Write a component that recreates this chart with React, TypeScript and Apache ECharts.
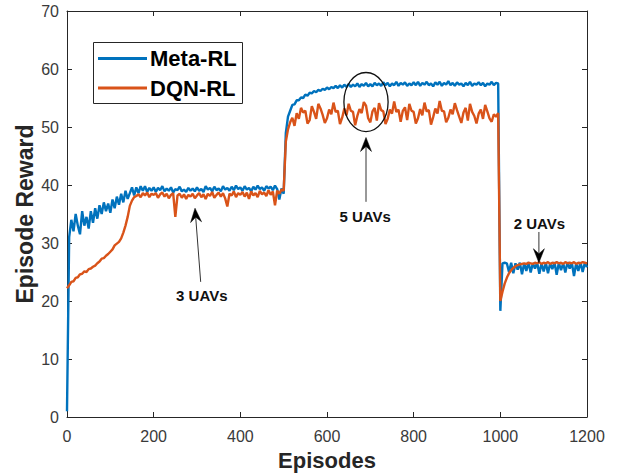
import React, { useEffect, useRef } from "react";
import * as echarts from "echarts";

// Episode spacing between samples
const STEP = 5;

const seriesNames = ["Meta-RL", "DQN-RL"];
const seriesColors = ["#0072BD", "#D95319"];

// Meta-RL episode reward, one value every 5 episodes (0..1200)
const metaRL = [
  1, 31, 34, 32, 35, 33, 31.5, 35.5, 33, 34.5, 32.5, 35.5, 33.5, 36, 34.2, 36.5, 35, 37, 35.5, 36.8,
  35.2, 37.5, 36, 38, 36.6, 38.5, 37, 39, 37.6, 38.6, 39.6, 38.2, 39.6, 38.6, 39.8, 39, 39.8, 38.8, 39.5, 39,
  39.6, 38.8, 39.5, 39.1, 39.8, 38.9, 39.4, 39.0, 39.6, 38.7, 39.3, 39.1, 39.7, 38.9, 39.2, 38.8, 39.5, 39.0, 39.4, 38.9,
  39.6, 39.0, 39.3, 38.8, 39.8, 39.2, 39.5, 38.9, 39.7, 39.1, 39.4, 38.9, 39.8, 39.2, 39.5, 39.0, 39.7, 39.1, 39.9, 39.3,
  39.6, 39.0, 39.8, 39.2, 39.5, 38.9, 39.7, 39.2, 39.9, 39.3, 39.6, 39.0, 39.8, 39.4, 39.7, 39.1, 39.9, 39.3, 37.5, 39.4,
  38.5, 49, 51.8, 52.8, 53.8, 53.9, 54.6, 54.6, 55.1, 55.0, 55.6, 55.4, 55.9, 55.8, 56.2, 56.0, 56.4, 56.2, 56.6, 56.4,
  56.8, 56.5, 56.9, 56.7, 57.1, 56.7, 57.2, 56.8, 57.3, 56.9, 57.4, 56.9, 57.3, 57.0, 57.5, 56.9, 57.4, 57.1, 57.6, 57.0,
  57.4, 57.0, 57.6, 57.2, 57.5, 57.1, 57.7, 57.2, 57.6, 57.0, 57.5, 57.2, 57.8, 57.1, 57.6, 57.3, 57.7, 57.1, 57.5, 57.2,
  57.7, 57.2, 57.8, 57.1, 57.6, 57.3, 57.8, 57.2, 57.5, 57.0, 57.7, 57.3, 57.8, 57.1, 57.6, 57.3, 57.9, 57.2, 57.6, 57.1,
  57.7, 57.3, 57.5, 57.0, 57.6, 57.2, 57.8, 57.1, 57.5, 57.3, 57.7, 57.2, 57.6, 57.0, 57.5, 57.3, 57.8, 57.2, 57.6, 57.5,
  18.3, 26.5, 26.6, 26.5, 25.0, 26.6, 24.8, 26.5, 25.4, 26.6, 24.6, 26.5, 25.2, 26.7, 24.9, 26.5, 25.6, 26.6, 24.7, 26.5,
  25.1, 26.6, 24.8, 26.5, 25.5, 26.7, 24.5, 26.6, 25.3, 26.5, 24.9, 26.7, 25.6, 26.6, 24.3, 26.5, 25.2, 26.7, 25.0, 26.6,
  25.8,
];

// DQN-RL episode reward, one value every 5 episodes (0..1200)
const dqnRL = [
  22.2, 22.7, 23.3, 23.4, 24.0, 24.1, 24.6, 24.7, 25.1, 25.0, 25.5, 25.6, 25.9, 26.1, 26.5, 26.8, 27.3, 27.4, 27.8, 28.1,
  28.5, 28.9, 29.6, 29.9, 30.2, 30.8, 31.8, 33.0, 34.5, 36.4, 37.3, 37.9, 38.1, 38.4, 37.9, 38.6, 38.2, 38.7, 37.9, 38.5,
  38.3, 38.6, 37.8, 38.4, 38.7, 38.0, 38.5, 37.7, 38.3, 38.6, 34.5, 38.2, 38.5, 37.8, 38.4, 37.6, 38.3, 38.0, 38.5, 37.7,
  38.2, 38.6, 37.9, 38.4, 37.6, 38.5, 38.1, 38.8, 37.8, 38.3, 38.7, 38.0, 38.6, 37.7, 36.3, 38.5, 38.2, 38.9, 37.9, 38.6,
  38.3, 38.8, 38.0, 38.7, 37.6, 38.9, 38.2, 38.6, 37.9, 39.0, 38.4, 38.7, 38.1, 39.1, 38.3, 38.9, 36.5, 39.0, 38.5, 39.2,
  39.0, 47.5, 49.6, 50.8, 51.6, 50.2, 52.4, 51.4, 53.3, 52.5, 52.8, 50.6, 51.2, 53.6, 52.6, 51.4, 54.0, 53.2, 52.1, 50.7,
  51.5, 53.0, 52.2, 54.2, 52.6, 52.8, 50.5, 51.6, 53.2, 52.0, 54.0, 52.8, 52.6, 50.3, 51.9, 53.1, 52.4, 54.3, 53.7, 51.5,
  50.8, 52.7, 53.3, 51.1, 54.1, 52.9, 52.7, 50.5, 51.4, 53.0, 52.3, 54.4, 52.6, 53.0, 50.9, 52.8, 53.4, 51.2, 54.0, 52.8,
  52.6, 50.6, 51.5, 53.1, 52.0, 54.2, 52.7, 52.9, 50.4, 51.7, 53.2, 52.3, 54.5, 52.8, 52.7, 50.8, 51.6, 53.0, 52.2, 54.1,
  52.9, 51.8, 50.7, 52.5, 53.3, 51.1, 54.0, 52.6, 51.9, 50.6, 52.3, 53.0, 51.4, 53.8, 52.7, 51.5, 50.9, 52.2, 51.8, 52.4,
  20.0, 21.6, 23.0, 24.0, 24.8, 25.3, 25.7, 26.0, 26.2, 26.3, 26.4, 26.5, 26.4, 26.6, 26.5, 26.4, 26.6, 26.5, 26.7, 26.4,
  26.6, 26.5, 26.7, 26.4, 26.6, 26.5, 26.7, 26.5, 26.6, 26.4, 26.7, 26.5, 26.6, 26.5, 26.7, 26.4, 26.6, 26.5, 26.7, 26.6,
  26.5,
];

// Annotations in data coordinates [episode, reward]
const annotationTexts = ["3 UAVs", "5 UAVs", "2 UAVs"];
const annotationTextPos = [[311, 21.0], [688, 34.6], [1090, 33.4]];
const annotationTails = [[308.5, 23.3], [690, 37.1], [1089, 31.9]];
const annotationTips = [[295.4, 36.0], [690, 48.2], [1089, 26.6]];
// Ellipse around 5 UAVs region: center [episode, reward], radii [episodes, reward]
const ellipseCenter = [690, 54.3];
const ellipseRadii = [51, 5.1];

const FONT = "'Liberation Sans', Arial, Helvetica, sans-serif";
const AXIS_COLOR = "#262626";

export default function App() {
  const ref = useRef<HTMLDivElement>(null);

  useEffect(() => {
    if (!ref.current) return;
    const chart = echarts.init(ref.current, null, { renderer: "svg" });

    const toPairs = (arr: number[]) => arr.map((v, i) => [i * STEP, v]);

    const xCommon = {
      type: "value" as const,
      min: 0,
      max: 1200,
      interval: 200,
      splitLine: { show: false },
      axisLine: { show: true, onZero: false, lineStyle: { color: AXIS_COLOR, width: 1 } },
      axisTick: { show: true, inside: true, length: 5, lineStyle: { color: AXIS_COLOR } },
    };
    const yCommon = {
      type: "value" as const,
      min: 0,
      max: 70,
      interval: 10,
      splitLine: { show: false },
      axisLine: { show: true, onZero: false, lineStyle: { color: AXIS_COLOR, width: 1 } },
      axisTick: { show: true, inside: true, length: 5, lineStyle: { color: AXIS_COLOR } },
    };

    const option: any = {
      animation: false,
      backgroundColor: "#ffffff",
      textStyle: { fontFamily: FONT },
      grid: { left: 67, right: 30, top: 11, bottom: 58, containLabel: false },
      xAxis: [
        {
          ...xCommon,
          position: "bottom",
          name: "Episodes",
          nameLocation: "middle",
          nameGap: 32,
          nameMoveOverlap: false,
          nameTextStyle: { fontSize: 22, fontWeight: "bold", color: AXIS_COLOR, fontFamily: FONT },
          axisLabel: {
            color: "#3a3a3a",
            fontSize: 16,
            margin: 11,
            fontFamily: FONT,
            formatter: (v: number) => String(v),
          },
        },
        {
          ...xCommon,
          position: "top",
          axisLabel: { show: false },
        },
      ],
      yAxis: [
        {
          ...yCommon,
          position: "left",
          name: "Episode Reward",
          nameLocation: "middle",
          nameGap: 31,
          nameMoveOverlap: false,
          nameTextStyle: { fontSize: 23, fontWeight: "bold", color: AXIS_COLOR, fontFamily: FONT },
          axisLabel: { color: "#3a3a3a", fontSize: 16, margin: 8, fontFamily: FONT },
        },
        {
          ...yCommon,
          position: "right",
          axisLabel: { show: false },
        },
      ],
      series: [
        {
          name: seriesNames[0],
          type: "line",
          xAxisIndex: 0,
          yAxisIndex: 0,
          data: toPairs(metaRL),
          showSymbol: false,
          symbol: "none",
          lineStyle: { color: seriesColors[0], width: 2.4 },
          z: 2,
        },
        {
          name: seriesNames[1],
          type: "line",
          xAxisIndex: 0,
          yAxisIndex: 0,
          data: toPairs(dqnRL),
          showSymbol: false,
          symbol: "none",
          lineStyle: { color: seriesColors[1], width: 2.4 },
          z: 3,
        },
      ],
    };
    chart.setOption(option);

    const px = (p: number[]) =>
      chart.convertToPixel({ xAxisIndex: 0, yAxisIndex: 0 }, p) as number[];

    const graphics: any[] = [];

    // Legend box
    const lx = 93, ly = 42, lw = 149, lh = 61;
    graphics.push({
      type: "rect",
      shape: { x: lx + 0.5, y: ly + 0.5, width: lw, height: lh },
      style: { fill: "#ffffff", stroke: AXIS_COLOR, lineWidth: 1 },
      z: 100,
    });
    seriesNames.forEach((name, i) => {
      const cy = ly + 16.5 + i * 29.5;
      graphics.push({
        type: "line",
        shape: { x1: lx + 5, y1: cy, x2: lx + 54, y2: cy },
        style: { stroke: seriesColors[i], lineWidth: 2.8 },
        z: 101,
      });
      graphics.push({
        type: "text",
        x: lx + 57,
        y: cy,
        style: {
          text: name,
          fill: "#000000",
          font: `bold 22px ${FONT}`,
          verticalAlign: "middle",
          align: "left",
        },
        z: 101,
      });
    });

    // Annotations: texts and arrows
    annotationTexts.forEach((t, i) => {
      const tp = px(annotationTextPos[i]);
      graphics.push({
        type: "text",
        x: tp[0],
        y: tp[1],
        style: {
          text: t,
          fill: "#111111",
          font: `bold 15px ${FONT}`,
          align: "center",
          verticalAlign: "middle",
        },
        z: 90,
      });
      const tail = px(annotationTails[i]);
      const tip = px(annotationTips[i]);
      const dx = tip[0] - tail[0];
      const dy = tip[1] - tail[1];
      const len = Math.sqrt(dx * dx + dy * dy) || 1;
      const ux = dx / len, uy = dy / len;
      const nx = -uy, ny = ux;
      const L = 14, W = 5.5, N = 9;
      const notch = [tip[0] - N * ux, tip[1] - N * uy];
      graphics.push({
        type: "line",
        shape: { x1: tail[0], y1: tail[1], x2: notch[0], y2: notch[1] },
        style: { stroke: "#333333", lineWidth: 1 },
        z: 90,
      });
      graphics.push({
        type: "polygon",
        shape: {
          points: [
            [tip[0], tip[1]],
            [tip[0] - L * ux + W * nx, tip[1] - L * uy + W * ny],
            notch,
            [tip[0] - L * ux - W * nx, tip[1] - L * uy - W * ny],
          ],
        },
        style: { fill: "#000000", stroke: "#000000", lineWidth: 0.5 },
        z: 91,
      });
    });

    // Ellipse around 5 UAVs region
    const ec = px(ellipseCenter);
    const ee = px([ellipseCenter[0] + ellipseRadii[0], ellipseCenter[1] + ellipseRadii[1]]);
    graphics.push({
      type: "ellipse",
      shape: { cx: ec[0], cy: ec[1], rx: Math.abs(ee[0] - ec[0]), ry: Math.abs(ee[1] - ec[1]) },
      style: { fill: "none", stroke: "#111111", lineWidth: 1.3 },
      z: 92,
    });

    chart.setOption({ graphic: graphics });

    return () => {
      chart.dispose();
    };
  }, []);

  return (
    <div
      ref={ref}
      style={{ position: "fixed", left: 0, top: 0, width: 617, height: 476, background: "#ffffff" }}
    />
  );
}
